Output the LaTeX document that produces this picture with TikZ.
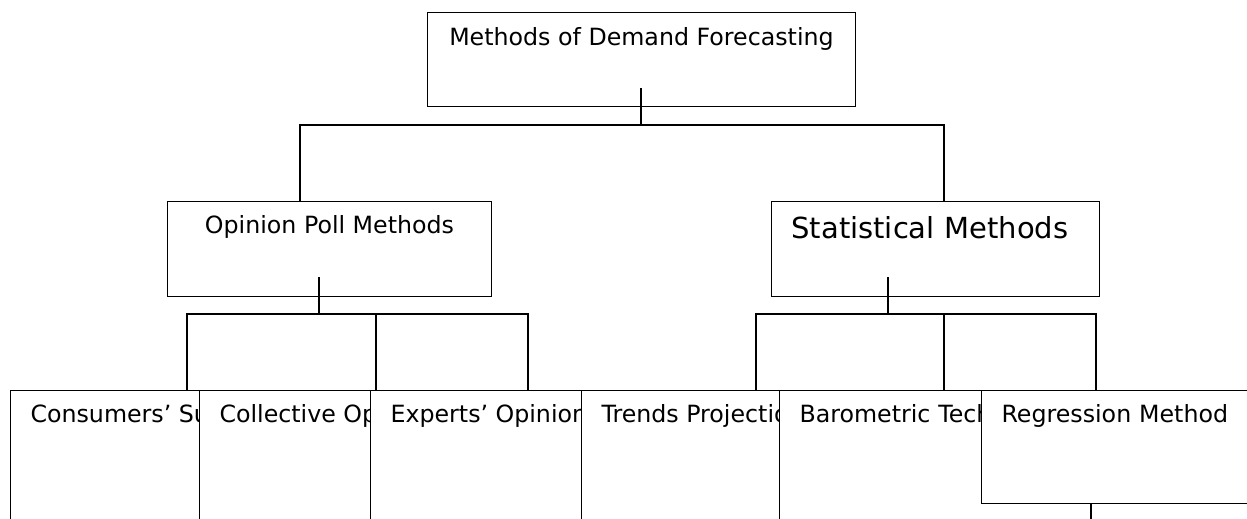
\documentclass[tikz,border=0pt]{standalone}
\usepackage{fontspec}
\setmainfont{DejaVu Sans}

\begin{document}
\begin{tikzpicture}[x=0.02cm, y=-0.02cm, line width=0.6pt,
  box/.style={draw=black, fill=white, anchor=north west, inner ysep=0pt,
    font=\fontsize{13.5}{16}\selectfont},
  leaf/.style={box, inner xsep=0.4cm, text height=0.64cm, text depth=2.8cm}]

  \useasboundingbox (0,0) rectangle (1247,518);
  \clip (0,0) rectangle (1247,518);

  \node[box, inner xsep=0pt, minimum width=8.56cm, text height=0.66cm, text depth=1.22cm] (methods) at (427,12) {Methods of Demand Forecasting};

  \node[box, inner xsep=0pt, minimum width=6.48cm, text height=0.64cm, text depth=1.26cm] (opinion) at (167,201) {Opinion Poll Methods};
  \node[box, inner xsep=0.4cm, text width=5.76cm, align=left, text height=0.74cm, text depth=1.16cm, font=\fontsize{16.5}{20}\selectfont] (statistical) at (771,201) {Statistical Methods};

  % bottom row, each box laid over the one before
  \node[leaf] (survey) at (10,390) {Consumers’ Survey};
  \node[leaf] (collective) at (199,390) {Collective Opinion};
  \node[leaf] (experts) at (370,390) {Experts’ Opinion};
  \node[leaf] (trends) at (581,390) {Trends Projection};
  \node[leaf, text width=9.5cm, align=left] (barometric) at (779,390) {Barometric Technique};
  \node[leaf, text width=5.4cm, align=left, text depth=1.62cm] (regression) at (981,390) {Regression Method};

  % tree lines
  \coordinate (methods-out) at (641,88);
  \coordinate (opinion-in) at (300,201);
  \coordinate (statistical-in) at (944,201);
  \draw (methods-out) -- ++(0,37);
  \draw (opinion-in) -- ++(0,-76) -| (statistical-in);

  \coordinate (opinion-out) at (319,277);
  \coordinate (survey-in) at (187,390);
  \coordinate (collective-in) at (376,390);
  \coordinate (experts-in) at (528,390);
  \draw (opinion-out) -- ++(0,37);
  \draw (survey-in) -- ++(0,-76) -| (experts-in);
  \draw (collective-in) -- ++(0,-76);

  \coordinate (statistical-out) at (888,277);
  \coordinate (trends-in) at (756,390);
  \coordinate (barometric-in) at (944,390);
  \coordinate (regression-in) at (1096,390);
  \draw (statistical-out) -- ++(0,37);
  \draw (trends-in) -- ++(0,-76) -| (regression-in);
  \draw (barometric-in) -- ++(0,-76);

  \coordinate (regression-out) at (1091,503);
  \draw (regression-out) -- ++(0,20);

\end{tikzpicture}
\end{document}
